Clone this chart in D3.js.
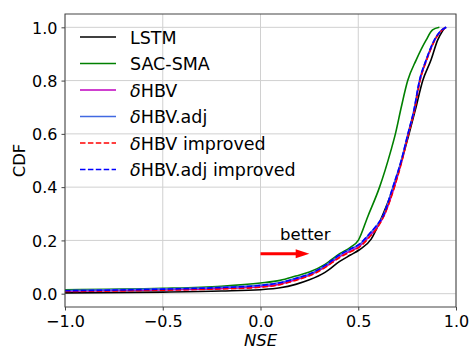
<!DOCTYPE html>
<html>
<head>
<meta charset="utf-8">
<title>NSE CDF</title>
<script src="https://d3js.org/d3.v7.min.js"></script>
<style>
  body { margin: 0; background: #fff; }
  text { font-family: "DejaVu Sans", sans-serif; fill: #000; }
</style>
</head>
<body>
<div id="chart"></div>
<script>
// [NSE, CDF] points, one array per model
let lstm = [[-1,0.003],[-0.5,0.006],[-0.2,0.01],[0,0.015],[0.1,0.022],[0.18,0.035],[0.25,0.052],[0.33,0.08],[0.405,0.121],[0.46,0.145],[0.506,0.165],[0.566,0.205],[0.61,0.27],[0.65,0.34],[0.69,0.42],[0.73,0.52],[0.76,0.6],[0.792,0.69],[0.83,0.8],[0.872,0.877],[0.906,0.952],[0.93,0.985],[0.945,1.0]];
let sacsma = [[-1,0.015],[-0.5,0.02],[-0.2,0.028],[0,0.04],[0.1,0.05],[0.18,0.066],[0.25,0.081],[0.33,0.11],[0.405,0.15],[0.46,0.174],[0.5,0.2],[0.549,0.29],[0.609,0.4],[0.668,0.54],[0.69,0.6],[0.72,0.7],[0.753,0.8],[0.796,0.877],[0.847,0.952],[0.88,0.99],[0.915,1.0]];
let dhbv = [[-1,0.009],[-0.5,0.014],[-0.2,0.019],[0,0.026],[0.1,0.036],[0.18,0.052],[0.25,0.069],[0.33,0.1],[0.405,0.139],[0.46,0.16],[0.506,0.178],[0.557,0.215],[0.6,0.253],[0.63,0.29],[0.684,0.4],[0.723,0.5],[0.756,0.6],[0.787,0.69],[0.815,0.8],[0.849,0.877],[0.891,0.952],[0.922,0.985],[0.95,1.0]];
let dhbvAdj = [[-1,0.012],[-0.5,0.018],[-0.2,0.024],[0,0.032],[0.1,0.042],[0.18,0.058],[0.25,0.073],[0.33,0.105],[0.405,0.145],[0.46,0.167],[0.506,0.185],[0.557,0.224],[0.6,0.261],[0.626,0.29],[0.677,0.4],[0.72,0.5],[0.754,0.6],[0.785,0.69],[0.813,0.8],[0.847,0.877],[0.889,0.952],[0.92,0.985],[0.95,1.0]];
let dhbvImp = [[-1,0.008],[-0.5,0.013],[-0.2,0.018],[0,0.024],[0.1,0.034],[0.18,0.05],[0.25,0.067],[0.33,0.098],[0.405,0.136],[0.46,0.157],[0.506,0.175],[0.557,0.212],[0.6,0.25],[0.63,0.29],[0.685,0.4],[0.724,0.5],[0.757,0.6],[0.788,0.69],[0.816,0.8],[0.85,0.877],[0.892,0.952],[0.923,0.985],[0.95,1.0]];
let dhbvAdjImp = [[-1,0.011],[-0.5,0.017],[-0.2,0.023],[0,0.031],[0.1,0.041],[0.18,0.057],[0.25,0.074],[0.33,0.106],[0.405,0.146],[0.46,0.168],[0.506,0.186],[0.557,0.225],[0.6,0.262],[0.626,0.29],[0.677,0.4],[0.72,0.5],[0.754,0.6],[0.785,0.69],[0.813,0.8],[0.847,0.877],[0.889,0.952],[0.92,0.985],[0.95,1.0]];

let names = ['LSTM', 'SAC-SMA', 'δHBV', 'δHBV.adj', 'δHBV improved', 'δHBV.adj improved'];
let xTicks = [-1, -0.5, 0, 0.5, 1];
let yTicks = [0, 0.2, 0.4, 0.6, 0.8, 1.0];

let series = [
  {name: names[0], pts: lstm, color: '#000000', dash: null},
  {name: names[1], pts: sacsma, color: '#008000', dash: null},
  {name: names[2], pts: dhbv, color: '#bf00bf', dash: null},
  {name: names[3], pts: dhbvAdj, color: '#4169e1', dash: null},
  {name: names[4], pts: dhbvImp, color: '#ff0000', dash: '5.5,2.4'},
  {name: names[5], pts: dhbvAdjImp, color: '#0000ff', dash: '5.5,2.4'}
];

let svgw = 473, svgh = 349;
let margen = {sup: 14, izq: 65, der: 17, inf: 42};
let vizw = svgw - margen.izq - margen.der;
let vizh = svgh - margen.sup - margen.inf;

let svg = d3.select('#chart').append('svg')
  .attr('width', svgw).attr('height', svgh);

let escala_x = d3.scaleLinear().domain([-1, 1]).range([0, vizw]);
let escala_y = d3.scaleLinear().domain([-0.05, 1.05]).range([vizh, 0]);

let g = svg.append('g').attr('transform', `translate(${margen.izq},${margen.sup})`);

// grid
g.append('g').selectAll('line').data(xTicks).enter().append('line')
  .attr('x1', d => escala_x(d)).attr('x2', d => escala_x(d))
  .attr('y1', 0).attr('y2', vizh)
  .attr('stroke', '#d0d0d0').attr('stroke-width', 1);
g.append('g').selectAll('line').data(yTicks).enter().append('line')
  .attr('y1', d => escala_y(d)).attr('y2', d => escala_y(d))
  .attr('x1', 0).attr('x2', vizw)
  .attr('stroke', '#d0d0d0').attr('stroke-width', 1);

// axes
let fmt = d3.format('.1f');
let ejeX = g.append('g').attr('transform', `translate(0,${vizh})`)
  .call(d3.axisBottom(escala_x).tickValues(xTicks).tickFormat(fmt).tickSizeOuter(0).tickSize(3.5).tickPadding(5));
let ejeY = g.append('g')
  .call(d3.axisLeft(escala_y).tickValues(yTicks).tickFormat(fmt).tickSizeOuter(0).tickSize(3.5).tickPadding(4));
[ejeX, ejeY].forEach(a => {
  a.select('.domain').remove();
  a.selectAll('line').attr('stroke', '#444');
  a.selectAll('text').attr('font-size', 16).attr('font-family', 'DejaVu Sans').attr('fill', '#000');
});
ejeY.selectAll('text').attr('dy', '0.36em');

// clip
svg.append('clipPath').attr('id', 'clip').append('rect')
  .attr('width', vizw).attr('height', vizh);

let linea = d3.line().curve(d3.curveMonotoneX)
  .x(d => escala_x(d[0])).y(d => escala_y(d[1]));

g.append('g').attr('clip-path', 'url(#clip)')
  .selectAll('path').data(series).enter().append('path')
  .attr('d', d => linea(d.pts))
  .attr('fill', 'none')
  .attr('stroke', d => d.color)
  .attr('stroke-width', 1.6)
  .attr('stroke-dasharray', d => d.dash);

// frame
g.append('rect').attr('width', vizw).attr('height', vizh)
  .attr('fill', 'none').attr('stroke', '#444').attr('stroke-width', 1);

// "better" arrow
g.append('line')
  .attr('x1', escala_x(0)).attr('x2', escala_x(0.19))
  .attr('y1', escala_y(0.15)).attr('y2', escala_y(0.15))
  .attr('stroke', '#ff0000').attr('stroke-width', 3);
g.append('path')
  .attr('d', `M${escala_x(0.18)},${escala_y(0.15) - 4.5}L${escala_x(0.25)},${escala_y(0.15)}L${escala_x(0.18)},${escala_y(0.15) + 4.5}Z`)
  .attr('fill', '#ff0000');
g.append('text').attr('x', escala_x(0.1)).attr('y', escala_y(0.2))
  .attr('font-size', 16.5).text('better');

// legend
let leg = svg.append('g').attr('transform', 'translate(80,37)');
let item = leg.selectAll('g').data(series).enter().append('g')
  .attr('transform', (d, i) => `translate(0,${i * 26.5})`);
item.append('line').attr('x1', 0).attr('x2', 36).attr('y1', 0).attr('y2', 0)
  .attr('stroke', d => d.color).attr('stroke-width', 1.6)
  .attr('stroke-dasharray', d => d.dash);
item.append('text').attr('x', 50).attr('y', 6.5).attr('font-size', 17.5)
  .each(function(d) {
    let t = d3.select(this);
    if (d.name.startsWith('δ')) {
      t.append('tspan').attr('font-style', 'italic').text('δ');
      t.append('tspan').text(d.name.slice(1));
    } else {
      t.text(d.name);
    }
  });

// axis titles
svg.append('text').attr('x', margen.izq + escala_x(0)).attr('y', 346)
  .attr('text-anchor', 'middle').attr('font-size', 16.5).attr('font-style', 'italic').text('NSE');
svg.append('text')
  .attr('transform', `translate(25,${margen.sup + vizh / 2}) rotate(-90)`)
  .attr('text-anchor', 'middle').attr('font-size', 16.5).text('CDF');
</script>
</body>
</html>
